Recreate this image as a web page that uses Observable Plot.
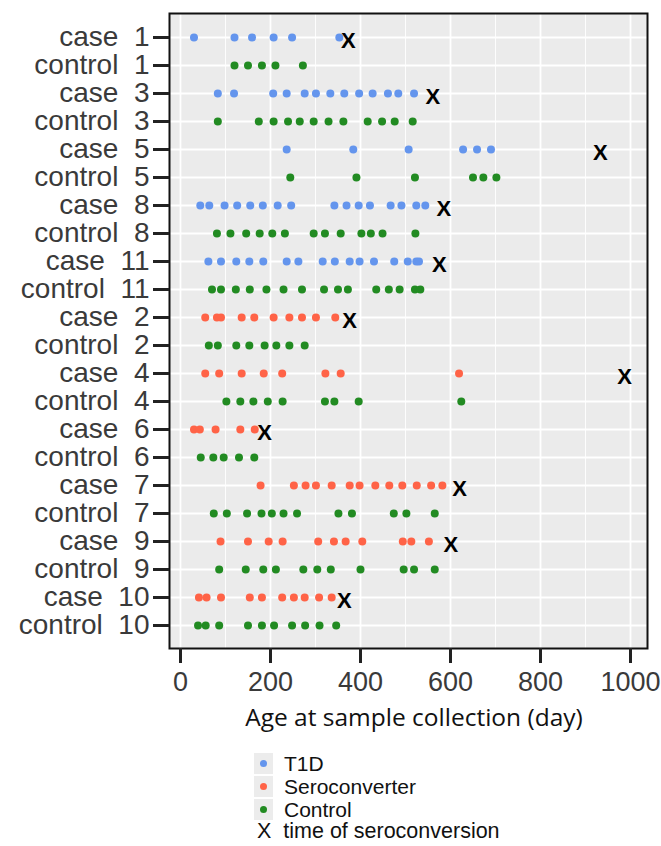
<!DOCTYPE html>
<html>
<head>
<meta charset="utf-8">
<script src="https://cdn.jsdelivr.net/npm/d3@7"></script>
<script src="https://cdn.jsdelivr.net/npm/@observablehq/plot@0.6"></script>
<style>
  body { margin: 0; background: #fff; }
  #wrap { position: relative; width: 661px; height: 846px; overflow: hidden; }
  #chart { position: absolute; left: 0; top: 0; }
  .abs { position: absolute; white-space: nowrap; }
  .ttl { font-family: "Open Sans", sans-serif; font-size: 24.5px; color: #111; line-height: 1; }
  .leg { font-family: "Liberation Sans", Arial, sans-serif; font-size: 21px; color: #111; line-height: 1; }
  .key { position: absolute; width: 19px; height: 21px; background: #ececec; }
  .key span { position: absolute; left: 6px; top: 7px; width: 7px; height: 7px; border-radius: 50%; }
</style>
</head>
<body>
<div id="wrap">
  <div id="chart"></div>
  <div class="abs ttl" id="xtitle"></div>
  <div id="legend"></div>
</div>
<script>
// ---- Data (ages at sample collection, days) ----
const rowLabels = [
  "case 1", "control 1", "case 3", "control 3", "case 5", "control 5",
  "case 8", "control 8", "case 11", "control 11", "case 2", "control 2",
  "case 4", "control 4", "case 6", "control 6", "case 7", "control 7",
  "case 9", "control 9", "case 10", "control 10"
];
const rowGroups = [
  "T1D", "Control", "T1D", "Control", "T1D", "Control",
  "T1D", "Control", "T1D", "Control", "Seroconverter", "Control",
  "Seroconverter", "Control", "Seroconverter", "Control", "Seroconverter", "Control",
  "Seroconverter", "Control", "Seroconverter", "Control"
];

const case1 = [30, 120, 159, 207, 248, 353];
const control1 = [120, 150, 181, 211, 272];
const case3 = [83, 119, 206, 236, 276, 301, 333, 364, 397, 427, 461, 484, 519];
const control3 = [83, 174, 207, 239, 265, 296, 329, 362, 416, 448, 476, 516];
const case5 = [236, 384, 507, 628, 659, 690];
const control5 = [244, 391, 521, 650, 673, 702];
const case8 = [44, 64, 98, 126, 155, 183, 216, 246, 342, 369, 396, 421, 467, 491, 524, 544];
const control8 = [81, 111, 146, 176, 204, 232, 296, 321, 356, 402, 423, 449, 522];
const case11 = [62, 90, 124, 153, 184, 236, 262, 316, 343, 376, 398, 430, 475, 505, 524, 530];
const control11 = [70, 90, 123, 154, 191, 229, 270, 319, 350, 372, 435, 463, 487, 521, 533];
const case2 = [55, 81, 90, 136, 164, 207, 242, 270, 301, 344];
const control2 = [63, 83, 124, 153, 187, 213, 242, 276];
const case4 = [55, 86, 136, 185, 226, 322, 356, 619];
const control4 = [102, 133, 162, 194, 227, 321, 342, 396, 624];
const case6 = [30, 43, 78, 133, 165];
const control6 = [45, 73, 96, 130, 164];
const case7 = [178, 252, 278, 301, 336, 376, 398, 433, 464, 493, 525, 557, 582];
const control7 = [74, 103, 148, 180, 203, 229, 259, 351, 381, 474, 502, 565];
const case9 = [89, 150, 196, 227, 306, 341, 367, 404, 494, 513, 552];
const control9 = [86, 145, 184, 212, 273, 304, 334, 400, 496, 519, 565];
const case10 = [41, 58, 90, 154, 181, 226, 252, 276, 308, 336];
const control10 = [39, 56, 86, 150, 181, 208, 248, 277, 309, 346];

const rowSeries = [
  case1, control1, case3, control3, case5, control5, case8, control8,
  case11, control11, case2, control2, case4, control4, case6, control6,
  case7, control7, case9, control9, case10, control10
];

// time of seroconversion (X marks)
const seroCases = ["case 1", "case 3", "case 5", "case 8", "case 11", "case 2",
                   "case 4", "case 6", "case 7", "case 9", "case 10"];
const seroDays = [373, 561, 933, 585, 575, 376, 987, 187, 620, 601, 364];

const xTicks = [0, 200, 400, 600, 800, 1000];
const xMinor = [100, 300, 500, 700, 900];

const groupNames = ["T1D", "Seroconverter", "Control"];
const groupColors = ["#6495ED", "#FF6347", "#228B22"];

// ---- Build tables ----
const samples = rowLabels.flatMap((lab, i) =>
  rowSeries[i].map(d => ({row: lab, day: d, group: rowGroups[i]})));
const sero = seroCases.map((c, i) => ({row: c, day: seroDays[i]}));

const W = 661, H = 700;
const chart = Plot.plot({
  width: W,
  height: H,
  marginLeft: 169,
  marginRight: 14,
  marginTop: 13,
  marginBottom: H - 648,
  style: {fontFamily: "'Liberation Sans', Arial, sans-serif", background: "transparent"},
  x: {domain: [-24.4, 1037.8]},
  y: {type: "point", domain: rowLabels, padding: 0.65},
  color: {domain: groupNames, range: groupColors},
  marks: [
    Plot.frame({fill: "#ebebeb"}),
    Plot.gridX({ticks: xMinor, stroke: "#fff", strokeOpacity: 1, strokeWidth: 0.9}),
    Plot.gridX({ticks: xTicks, stroke: "#fff", strokeOpacity: 1, strokeWidth: 1.8}),
    Plot.gridY({stroke: "#fff", strokeOpacity: 1, strokeWidth: 1.8}),
    Plot.dot(samples, {x: "day", y: "row", fill: "group", r: 4}),
    Plot.text(sero, {x: "day", y: "row", text: () => "X", fontWeight: "bold",
      fontSize: 22, fill: "#000", dy: 3}),
    Plot.frame({stroke: "#111", strokeWidth: 2}),
    Plot.axisY({tickSize: 16, tickPadding: 4, fontSize: 28, stroke: "#222",
      strokeWidth: 3, fill: "#3a3a3a", label: null,
      tickFormat: d => d.replace(" ", "\u00a0\u00a0")}),
    Plot.axisX({ticks: xTicks, tickSize: 15, tickPadding: 8, fontSize: 27,
      stroke: "#222", strokeWidth: 3, fill: "#3a3a3a", label: null,
      tickFormat: d => String(d)})
  ]
});
document.getElementById("chart").appendChild(chart);

// x-axis title
const xt = document.getElementById("xtitle");
xt.textContent = "Age at sample collection (day)";
xt.style.left = "414px";
xt.style.top = "705px";
xt.style.transform = "translateX(-50%)";

// legend
const legendLabels = ["T1D", "Seroconverter", "Control"];
const legendCenters = [763, 786, 809];
const legend = document.getElementById("legend");
legendLabels.forEach((lab, i) => {
  const k = document.createElement("div");
  k.className = "key";
  k.style.left = "254px";
  k.style.top = (legendCenters[i] - 10.5) + "px";
  const s = document.createElement("span");
  s.style.background = groupColors[i];
  k.appendChild(s);
  legend.appendChild(k);
  const t = document.createElement("div");
  t.className = "abs leg";
  t.style.left = "284px";
  t.style.top = (legendCenters[i] - 10.5) + "px";
  t.textContent = lab;
  legend.appendChild(t);
});
const xk = document.createElement("div");
xk.className = "abs leg";
xk.style.fontSize = "21.5px";
xk.style.left = "257px";
xk.style.top = "821px";
xk.textContent = "X\u00a0 time of seroconversion";
legend.appendChild(xk);
</script>
</body>
</html>
